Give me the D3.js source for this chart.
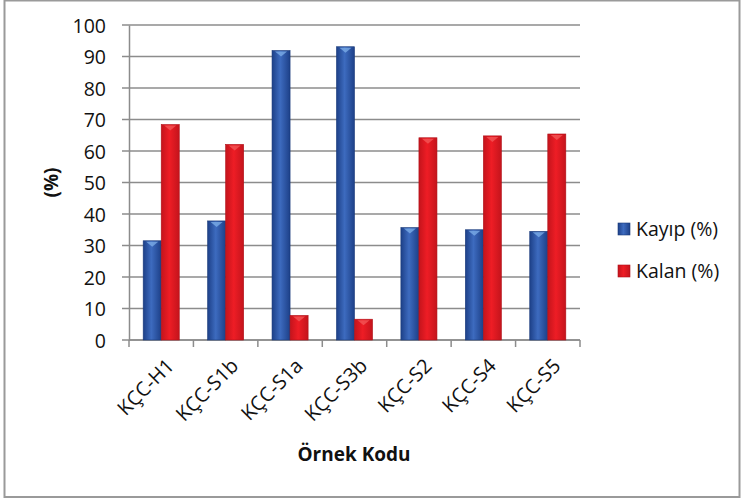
<!DOCTYPE html>
<html><head><meta charset="utf-8">
<script src="https://cdn.jsdelivr.net/npm/d3@7"></script>
<style>
html,body{margin:0;padding:0;background:#fff;}
svg text{font-family:"Open Sans",Lato,sans-serif;fill:#111;}
</style></head>
<body><svg id="c" width="742" height="501"></svg>
<script>
const categories = ["KÇC-H1","KÇC-S1b","KÇC-S1a","KÇC-S3b","KÇC-S2","KÇC-S4","KÇC-S5"];
const seriesNames = ["Kayıp (%)","Kalan (%)"];
const kayip = [31.5, 37.8, 91.9, 93.1, 35.7, 35.0, 34.5];
const kalan = [68.4, 62.1, 7.8, 6.6, 64.2, 64.8, 65.4];
const yTicks = [0,10,20,30,40,50,60,70,80,90,100];

const svg = d3.select("#c");
const m = {left:129, right:580, top:25, bottom:340};

// outer border
svg.append("rect").attr("x",4.5).attr("y",0.5).attr("width",735).attr("height",496.5)
  .attr("fill","#fff").attr("stroke","#9a9a9a").attr("stroke-width",2);

const defs = svg.append("defs");
function grad(id, edge, mid){
  const g = defs.append("linearGradient").attr("id",id).attr("x1","0").attr("x2","1").attr("y1","0").attr("y2","0");
  g.append("stop").attr("offset","0%").attr("stop-color",edge);
  g.append("stop").attr("offset","45%").attr("stop-color",mid);
  g.append("stop").attr("offset","100%").attr("stop-color",edge);
}
grad("gBlue","#1d4088","#3d6bbf");
grad("gRed","#c4141c","#ee1d25");
const colors = ["url(#gBlue)","url(#gRed)"];
const topCol = ["#7fb0ea","#f35a5a"];

const y = d3.scaleLinear().domain([0,100]).range([m.bottom, m.top]);
const x = d3.scaleBand().domain(categories).range([m.left, m.right]).paddingInner(0.44).paddingOuter(0.22);
const xs = d3.scaleBand().domain([0,1]).range([0, x.bandwidth()]);

// gridlines
svg.append("g").selectAll("line").data(yTicks).join("line")
  .attr("x1", m.left-7).attr("x2", m.right).attr("y1", d=>y(d)).attr("y2", d=>y(d))
  .attr("stroke","#8c8c8c").attr("stroke-width",1.5);

// y axis
const yAxis = d3.axisLeft(y).tickValues(yTicks).tickSize(0).tickPadding(23);
const ga = svg.append("g").attr("transform",`translate(${m.left},0)`).call(yAxis);
ga.select(".domain").attr("stroke","#8c8c8c").attr("stroke-width",1.5);
ga.selectAll("text").style("font-size","19.5px").style("font-family","Open Sans").attr("fill","#111").attr("dy","0.36em");

// x axis
const bounds = d3.range(categories.length+1).map(i => m.left + i*x.step());
svg.append("g").selectAll("line").data(bounds).join("line")
  .attr("x1", d=>d).attr("x2", d=>d).attr("y1", m.bottom).attr("y2", m.bottom+7)
  .attr("stroke","#8c8c8c").attr("stroke-width",1.5);
svg.append("line").attr("x1",m.left).attr("x2",m.right).attr("y1",m.bottom).attr("y2",m.bottom)
  .attr("stroke","#8c8c8c").attr("stroke-width",1.5);

// bars
const series = [kayip, kalan];
series.forEach((vals, si) => {
  const g = svg.append("g");
  g.selectAll("rect").data(categories).join("rect")
    .attr("x", c => x(c) + xs(si))
    .attr("width", xs.bandwidth())
    .attr("y", (c,i) => y(vals[i]))
    .attr("height", (c,i) => m.bottom - y(vals[i]))
    .attr("fill", colors[si])
    .attr("stroke", si===0 ? "#1a3a7a" : "#b01018").attr("stroke-width",0.6);
  g.selectAll("path").data(categories).join("path")
    .attr("d", (c,i) => {
      const x0 = x(c)+xs(si), w = xs.bandwidth(), t = y(vals[i]);
      return `M${x0+3},${t+1}L${x0+w-3},${t+1}L${x0+w/2},${t+6}Z`;
    })
    .attr("fill", topCol[si]).attr("opacity",0.75);
});

// x labels
svg.append("g").selectAll("text").data(categories).join("text")
  .attr("transform", c => `translate(${x(c)+x.bandwidth()/2+9},${m.bottom+22}) rotate(-45)`)
  .attr("text-anchor","end").attr("dy","0.36em")
  .style("font-size","20px").text(d=>d);

// axis titles
svg.append("text").attr("transform",`translate(58,${(m.top+m.bottom)/2}) rotate(-90)`)
  .attr("text-anchor","middle").style("font-size","19px").style("font-weight","bold").text("(%)");
svg.append("text").attr("x",354).attr("y",461)
  .attr("text-anchor","middle").style("font-size","19px").style("font-weight","bold").text("Örnek Kodu");

// legend
const lg = svg.append("g");
seriesNames.forEach((n,i) => {
  const yy = 229 + i*42;
  lg.append("rect").attr("x",618).attr("y",yy-6).attr("width",12).attr("height",12)
    .attr("fill",colors[i]).attr("stroke", i===0?"#1a3a7a":"#b01018").attr("stroke-width",0.6);
  lg.append("text").attr("x",636).attr("y",yy).attr("dy","0.36em").style("font-size","19.5px").text(n);
});
</script></body></html>
